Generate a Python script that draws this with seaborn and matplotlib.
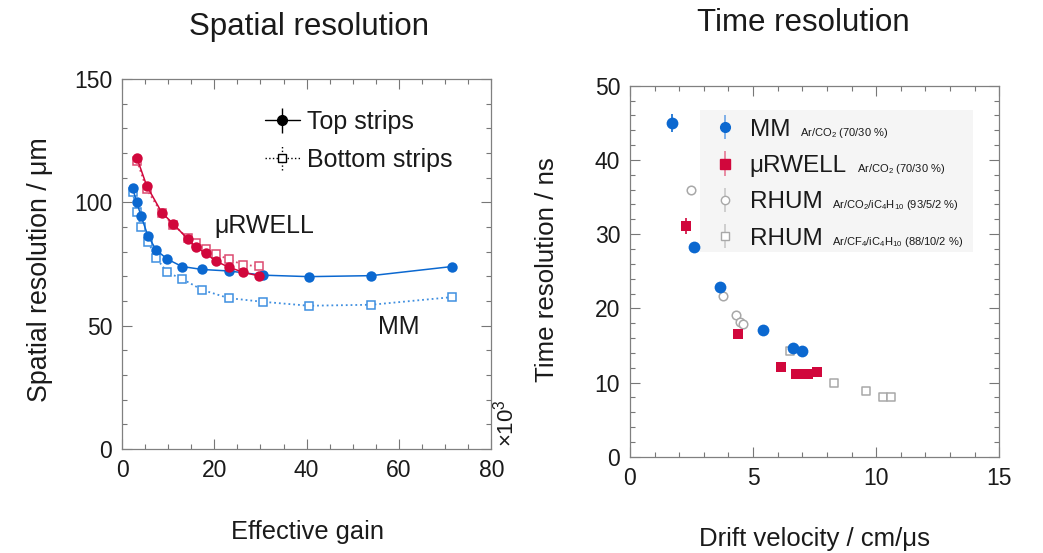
import matplotlib
matplotlib.use("Agg")
import matplotlib.pyplot as plt
import numpy as np
import seaborn as sns
from matplotlib.patches import Rectangle
from matplotlib.ticker import MultipleLocator

# spatial resolution vs effective gain (gain in units of 10^3)
mm_gain = [2.3, 3.2, 4.1, 5.6, 7.4, 9.8, 13.0, 17.4, 23.1, 30.5, 40.5, 54.0, 71.5]
mm_top = [105.7, 100.0, 94.6, 86.5, 80.7, 77.0, 74.0, 72.8, 72.2, 70.5, 69.9, 70.3, 74.0]
mm_bottom = [104.1, 96.1, 90.2, 84.1, 77.5, 71.6, 69.0, 64.5, 61.2, 59.7, 58.1, 58.5, 61.6]

rw_gain = [3.25, 5.35, 8.6, 11.1, 14.2, 16.0, 18.1, 20.4, 23.2, 26.2, 29.6]
rw_top = [117.9, 106.7, 95.9, 91.3, 85.2, 81.9, 79.4, 76.1, 73.7, 71.7, 70.2]
rw_bottom = [116.8, 105.3, 95.6, 91.0, 85.6, 83.6, 81.1, 78.9, 76.9, 74.7, 74.1]

# time resolution vs drift velocity
mm_vd = [1.71, 2.6, 3.67, 5.4, 6.63, 7.0]
mm_time = [45.0, 28.3, 22.9, 17.1, 14.7, 14.3]
mm_err = [1.2, 0.4, 0.3, 0.3, 0.3, 0.3]

rw_vd = [2.27, 4.39, 6.13, 6.73, 6.97, 7.22, 7.6]
rw_time = [31.1, 16.5, 12.1, 11.2, 11.1, 11.2, 11.4]
rw_err = [1.1, 0.4, 0.3, 0.3, 0.3, 0.3, 0.3]

rhum1_vd = [2.49, 3.79, 4.29, 4.49, 4.6]
rhum1_time = [36.0, 21.7, 19.1, 18.1, 17.9]
rhum1_err = [0.5, 0.4, 0.4, 0.4, 0.4]

rhum2_vd = [6.5, 8.28, 9.6, 10.29, 10.59]
rhum2_time = [14.3, 10.0, 8.8, 8.1, 8.1]
rhum2_err = [0.4, 0.3, 0.3, 0.3, 0.3]

legend_names = ["MM", "\u03bcRWELL", "RHUM", "RHUM"]
legend_gases = [
    r"Ar/CO$_\mathregular{2}$ (70/30 %)",
    r"Ar/CO$_\mathregular{2}$ (70/30 %)",
    r"Ar/CO$_\mathregular{2}$/iC$_\mathregular{4}$H$_\mathregular{10}$ (93/5/2 %)",
    r"Ar/CF$_\mathregular{4}$/iC$_\mathregular{4}$H$_\mathregular{10}$ (88/10/2 %)",
]

BLUE = "#0b68d0"
BLUE_OPEN = "#3f8fe0"
RED = "#d1073c"
RED_OPEN = "#dd4a70"
GRAY = "#a8a8a8"
TEXT = "#1a1a1a"

sns.set_theme(style="ticks")
plt.rcParams["font.family"] = ["Liberation Sans", "DejaVu Sans"]
plt.rcParams["mathtext.fontset"] = "custom"
plt.rcParams["mathtext.rm"] = "Liberation Sans"
plt.rcParams["text.color"] = TEXT


def style_axes(ax, xmaj, xmin, ymaj, ymin):
    ax.xaxis.set_major_locator(MultipleLocator(xmaj))
    ax.xaxis.set_minor_locator(MultipleLocator(xmin))
    ax.yaxis.set_major_locator(MultipleLocator(ymaj))
    ax.yaxis.set_minor_locator(MultipleLocator(ymin))
    ax.tick_params(which="both", direction="in", top=True, right=True,
                   color="#777777", width=0.8, labelsize=16.5, labelcolor=TEXT)
    ax.tick_params(which="major", length=7, pad=7)
    ax.tick_params(which="minor", length=3.6)
    for sp in ax.spines.values():
        sp.set_color("#808080")
        sp.set_linewidth(0.9)
    ax.set_xlabel("")
    ax.set_ylabel("")


fig = plt.figure(figsize=(10.43, 5.53), dpi=100)
ax1 = fig.add_axes([0.117, 0.188, 0.354, 0.669])
ax2 = fig.add_axes([0.604, 0.174, 0.354, 0.671])

# ---- left: spatial resolution
sns.lineplot(x=mm_gain, y=mm_bottom, ax=ax1, color=BLUE_OPEN, linestyle=":", linewidth=1.3,
             marker="s", markersize=6, markerfacecolor="white", markeredgecolor=BLUE_OPEN,
             markeredgewidth=1.1, estimator=None, sort=False)
sns.lineplot(x=mm_gain, y=mm_top, ax=ax1, color=BLUE, linewidth=1.1,
             marker="o", markersize=7.5, markeredgewidth=0, estimator=None, sort=False)
sns.lineplot(x=rw_gain, y=rw_bottom, ax=ax1, color=RED_OPEN, linestyle=":", linewidth=1.3,
             marker="s", markersize=6, markerfacecolor="white", markeredgecolor=RED_OPEN,
             markeredgewidth=1.1, estimator=None, sort=False)
sns.lineplot(x=rw_gain, y=rw_top, ax=ax1, color=RED, linewidth=1.1,
             marker="o", markersize=7.5, markeredgewidth=0, estimator=None, sort=False)

ax1.set_xlim(0, 80)
ax1.set_ylim(0, 150)
style_axes(ax1, 20, 5, 50, 10)

h_top = ax1.errorbar([np.nan], [np.nan], yerr=[1.0], fmt="-o", color="black", ms=7,
                     lw=1, elinewidth=1)
h_bot = ax1.errorbar([np.nan], [np.nan], yerr=[1.0], fmt=":s", color="black", ms=6,
                     mfc="white", lw=1, elinewidth=1)
for c in h_bot[2]:
    c.set_linestyle(":")
ax1.legend([h_top, h_bot], ["Top strips", "Bottom strips"], loc="upper left",
           bbox_to_anchor=(0.386, 0.916), frameon=False, fontsize=18, borderpad=0,
           borderaxespad=0, handlelength=1.4, handletextpad=0.3, labelspacing=0.54)

ax1.text(20.0, 90.4, "\u03bcRWELL", fontsize=18, ha="left", va="center")
ax1.text(55.4, 49.5, "MM", fontsize=18, ha="left", va="center")
fig.text(0.485, 0.235, r"$\times$10$^\mathregular{3}$", fontsize=16, rotation=90,
         ha="center", va="center")

# ---- right: time resolution
ax2.add_patch(Rectangle((0.19, 0.552), 0.74, 0.382, transform=ax2.transAxes,
                        facecolor="#f5f5f5", edgecolor="none", zorder=0.5))

ax2.errorbar(rhum2_vd, rhum2_time, yerr=rhum2_err, fmt="none", ecolor=GRAY, elinewidth=1)
sns.scatterplot(x=rhum2_vd, y=rhum2_time, ax=ax2, marker="s", s=38, facecolor="white",
                edgecolor=GRAY, linewidth=1.1, zorder=3)
ax2.errorbar(rhum1_vd, rhum1_time, yerr=rhum1_err, fmt="none", ecolor=GRAY, elinewidth=1)
sns.scatterplot(x=rhum1_vd, y=rhum1_time, ax=ax2, marker="o", s=38, facecolor="white",
                edgecolor=GRAY, linewidth=1.1, zorder=3)
ax2.errorbar(rw_vd, rw_time, yerr=rw_err, fmt="none", ecolor=RED, elinewidth=1.2)
sns.scatterplot(x=rw_vd, y=rw_time, ax=ax2, marker="s", s=62, color=RED, linewidth=0, zorder=4)
ax2.errorbar(mm_vd, mm_time, yerr=mm_err, fmt="none", ecolor=BLUE, elinewidth=1.2)
sns.scatterplot(x=mm_vd, y=mm_time, ax=ax2, marker="o", s=72, color=BLUE, linewidth=0, zorder=5)

ax2.set_xlim(0, 15)
ax2.set_ylim(0, 50)
style_axes(ax2, 5, 1, 10, 2)

proxies = [
    ax2.errorbar([np.nan], [np.nan], yerr=[1.0], fmt="o", color=BLUE, ms=7,
                 ecolor="#6aa4e6", elinewidth=1.2),
    ax2.errorbar([np.nan], [np.nan], yerr=[1.0], fmt="s", color=RED, ms=7,
                 ecolor="#e67a95", elinewidth=1.2),
    ax2.errorbar([np.nan], [np.nan], yerr=[1.0], fmt="o", color=GRAY, ms=6, mfc="white",
                 ecolor="#c8c8c8", elinewidth=1.2),
    ax2.errorbar([np.nan], [np.nan], yerr=[1.0], fmt="s", color=GRAY, ms=6, mfc="white",
                 ecolor="#c8c8c8", elinewidth=1.2),
]
leg2 = ax2.legend(proxies, legend_names, loc="upper left", bbox_to_anchor=(0.23, 0.911),
                  frameon=False, fontsize=17.5, borderpad=0, borderaxespad=0,
                  handlelength=0.8, handletextpad=0.63, labelspacing=0.59)

# titles and axis labels
fig.text(0.296, 0.9367, "Spatial resolution", fontsize=22.5, ha="center", va="baseline")
fig.text(0.770, 0.9445, "Time resolution", fontsize=22.5, ha="center", va="baseline")
fig.text(0.295, 0.0253, "Effective gain", fontsize=18.3, ha="center", va="baseline")
fig.text(0.781, 0.0127, "Drift velocity / cm/\u03bcs", fontsize=18.5, ha="center", va="baseline")
fig.text(0.0385, 0.512, "Spatial resolution / \u03bcm", fontsize=19.3, rotation=90,
         ha="center", va="center")
fig.text(0.5245, 0.512, "Time resolution / ns", fontsize=18.6, rotation=90,
         ha="center", va="center")

# small gas-mixture notes after each legend entry
fig.canvas.draw()
renderer = fig.canvas.get_renderer()
W, H = fig.bbox.width, fig.bbox.height
for t, gas in zip(leg2.get_texts(), legend_gases):
    bb = t.get_window_extent(renderer)
    _, _, d = renderer.get_text_width_height_descent("lp", t.get_fontproperties(), ismath=False)
    fig.text((bb.x1 + 10) / W, (bb.y0 + d) / H, gas, fontsize=8, ha="left", va="baseline")

fig.savefig("out.png", dpi=100)
